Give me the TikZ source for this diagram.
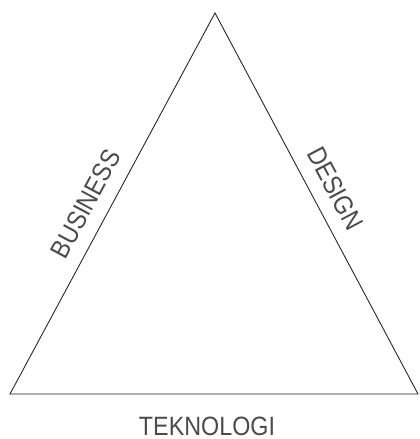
\documentclass[tikz,border=0pt]{standalone}
\usepackage{fontspec}
\setmainfont[FakeStretch=0.88]{Liberation Sans}
\usetikzlibrary{positioning}
\definecolor{edgecolor}{RGB}{40,40,40}
\definecolor{labelcolor}{RGB}{75,75,75}
\tikzset{
  side/.style={draw=edgecolor, line width=0.9pt, line join=miter},
  sidelabel/.style={text=labelcolor, font=\fontsize{26.5}{26.5}\selectfont, inner sep=0pt}
}
\begin{document}
\begin{tikzpicture}[x=1pt, y=-1pt]
    \useasboundingbox (0,0) rectangle (420,439);
    % corners of the triangle
    \coordinate (top) at (215,13);
    \coordinate (left) at (10,394);
    \coordinate (right) at (418,394);
    \draw[side] (left) -- (top) -- (right) -- cycle;
    % labels along the sides
    \path (left) -- node[sidelabel, sloped, above=14pt, pos=0.47] {BUSINESS} (top);
    \path (top) -- node[sidelabel, sloped, above=14pt, pos=0.49] {DESIGN} (right);
    \node[sidelabel] (tek) at (207,426.5) {TEKNOLOGI};
  \end{tikzpicture}
\end{document}
